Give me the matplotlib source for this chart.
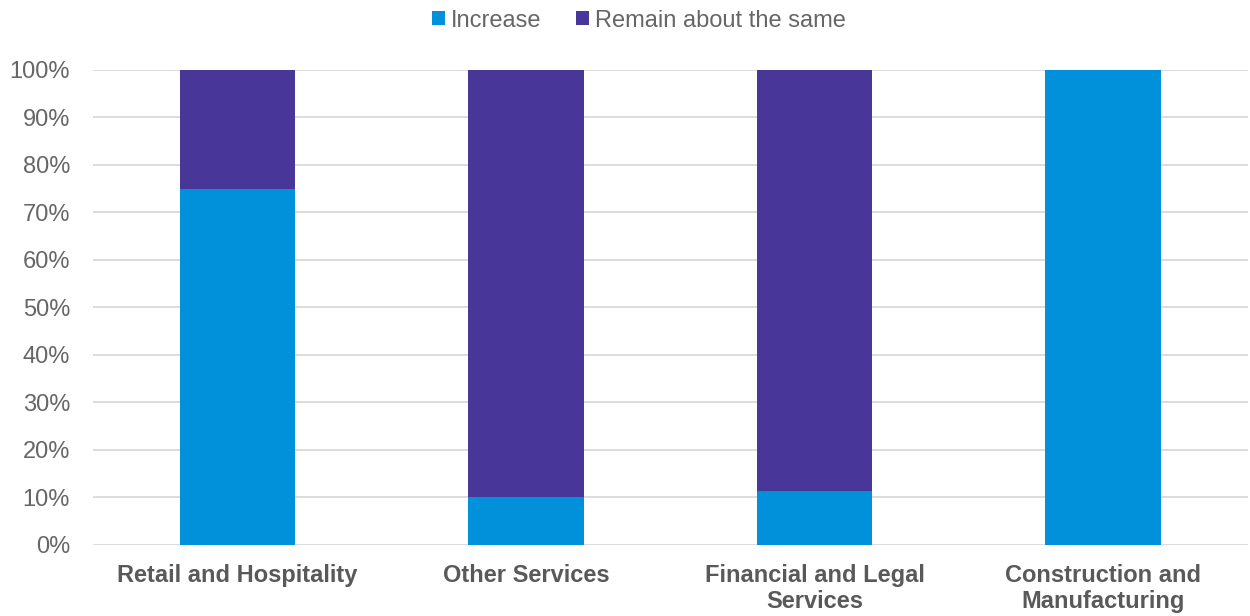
import numpy as np
import matplotlib.pyplot as plt
from matplotlib.ticker import PercentFormatter

# Share of respondents by sector
categories = ["Retail and Hospitality", "Other Services",
              "Financial and Legal\nServices", "Construction and\nManufacturing"]
increase = [75.0, 10.0, 11.4, 100.0]
remain_same = [25.0, 90.0, 88.6, 0.0]

blue = "#0091DA"
purple = "#483698"
text_grey = "#595959"
tick_grey = "#666666"

plt.rcParams["font.family"] = ["Liberation Sans", "DejaVu Sans"]

fig = plt.figure(figsize=(12.5, 6.16), dpi=100)
ax = fig.add_axes([0.0744, 0.1153, 0.9236, 0.7711])

x = np.arange(len(categories))
ax.bar(x, increase, 0.4, color=blue, label="Increase", zorder=3)
ax.bar(x, remain_same, 0.4, bottom=increase, color=purple,
       label="Remain about the same", zorder=3)

ax.set_ylim(0, 100)
ax.set_xlim(-0.5, len(categories) - 0.5)
ax.set_yticks(np.arange(0, 101, 10))
ax.yaxis.set_major_formatter(PercentFormatter(decimals=0))
ax.grid(axis="y", color="#d9d9d9", linewidth=1.3, zorder=0)

for s in ax.spines.values():
    s.set_visible(False)
ax.tick_params(axis="y", length=0, pad=16.5, labelsize=17, labelcolor=tick_grey)
ax.tick_params(axis="x", length=0, pad=14)
ax.set_xticks(x)
ax.set_xticklabels(categories, fontsize=17, fontweight="bold", color=text_grey,
                   linespacing=1.15, va="top")

fig.legend(loc="upper center", bbox_to_anchor=(0.511, 1.019), ncol=2, frameon=False,
           fontsize=17, labelcolor=tick_grey, handlelength=0.55, handleheight=0.55,
           handletextpad=0.25, columnspacing=1.45)

fig.savefig("out.png", dpi=100)
